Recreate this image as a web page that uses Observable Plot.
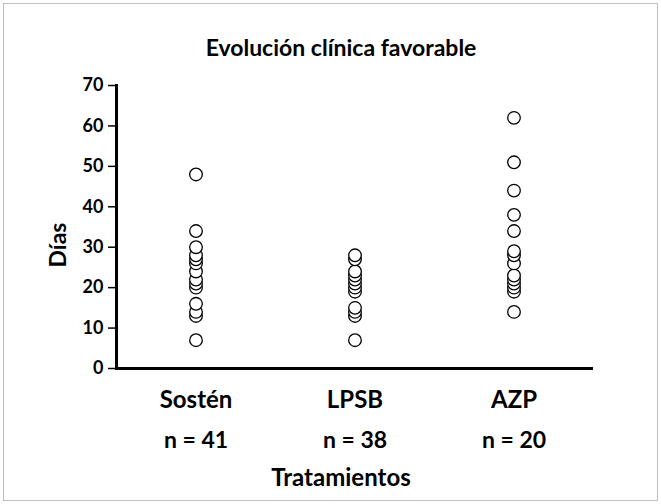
<!DOCTYPE html>
<html>
<head>
<meta charset="utf-8">
<script src="https://cdn.jsdelivr.net/npm/d3@7"></script>
<script src="https://cdn.jsdelivr.net/npm/@observablehq/plot@0.6"></script>
<style>
  body { margin: 0; background: #fff; }
  #wrap { position: relative; width: 661px; height: 504px; }
  #border { position: absolute; left: 3px; top: 3px; width: 653px; height: 496px; border: 1px solid #bdbdbd; pointer-events: none; }
</style>
</head>
<body>
<div id="wrap"><div id="border"></div></div>
<script>
const categories = ["Sostén", "LPSB", "AZP"];
const nLabels = ["n = 41", "n = 38", "n = 20"];
const sostenValues = [7, 13, 14, 16, 20, 21, 22, 24, 26, 27, 28, 30, 34, 48];
const lpsbValues = [7, 13, 14, 15, 19, 20, 21, 22, 23, 24, 27, 28];
const azpValues = [14, 19, 20, 21, 22, 23, 26, 28, 29, 34, 38, 44, 51, 62];
const yTicks = [0, 10, 20, 30, 40, 50, 60, 70];
const title = "Evolución clínica favorable";
const yTitle = "Días";
const xTitle = "Tratamientos";

const points = [
  ...sostenValues.map(v => ({cat: categories[0], v})),
  ...lpsbValues.map(v => ({cat: categories[1], v})),
  ...azpValues.map(v => ({cat: categories[2], v}))
];
const labelRows = categories.map((c, i) => ({cat: c, n: nLabels[i]}));

const font = "Lato, 'Open Sans', sans-serif";

const chart = Plot.plot({
  width: 661,
  height: 504,
  marginLeft: 116,
  marginRight: 68,
  marginTop: 85,
  marginBottom: 136,
  style: {fontFamily: font, background: "transparent", overflow: "visible"},
  x: {type: "band", domain: categories, padding: 0, axis: null},
  y: {domain: [0, 70], axis: null},
  marks: [
    Plot.axisY({ticks: yTicks, tickSize: 8, tickPadding: 5, fontSize: 18, fontWeight: "bold", label: null, strokeWidth: 1.5, fill: "black"}),
    Plot.ruleY([0], {strokeWidth: 3, stroke: "black"}),
    Plot.frame({anchor: "left", strokeWidth: 3, stroke: "black"}),
    Plot.dot(points, {x: "cat", y: "v", r: 6.3, stroke: "black", strokeWidth: 1.3, fill: "white"}),
    Plot.text(labelRows, {x: "cat", text: d => d.cat, frameAnchor: "bottom", lineAnchor: "middle", dy: 32, fontSize: 24, fontWeight: "bold", fill: "black"}),
    Plot.text(labelRows, {x: "cat", text: "n", frameAnchor: "bottom", lineAnchor: "middle", dy: 72, fontSize: 23, fontWeight: "bold", fill: "black"}),
    Plot.text([title], {frameAnchor: "top", lineAnchor: "middle", dx: -14, dy: -37, fontSize: 23, fontWeight: "bold", fill: "black"}),
    Plot.text([xTitle], {frameAnchor: "bottom", lineAnchor: "middle", dx: -14, dy: 110, fontSize: 24, fontWeight: "bold", fill: "black"}),
    Plot.text([yTitle], {frameAnchor: "left", textAnchor: "middle", lineAnchor: "middle", dx: -58, dy: 18, rotate: -90, fontSize: 23, fontWeight: "bold", fill: "black"})
  ]
});
document.getElementById("wrap").appendChild(chart);
chart.style.position = "absolute";
chart.style.left = "0";
chart.style.top = "0";
</script>
</body>
</html>
